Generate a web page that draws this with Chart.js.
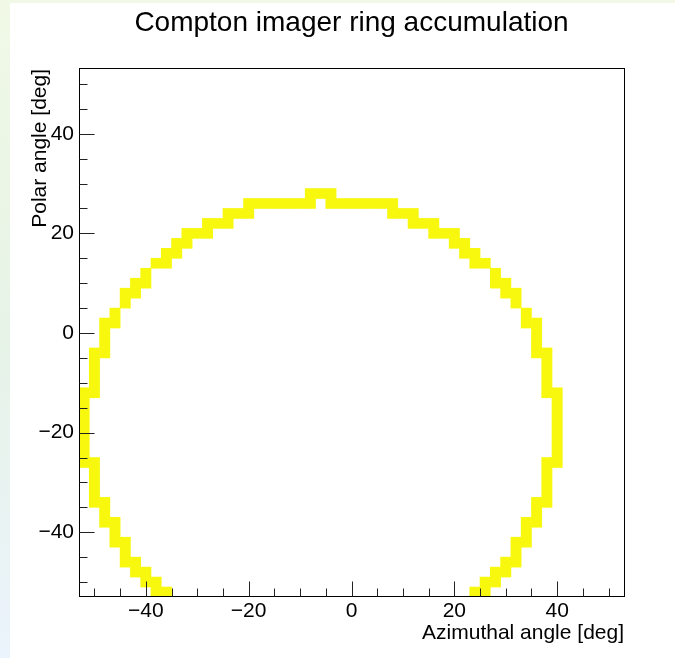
<!DOCTYPE html>
<html>
<head>
<meta charset="utf-8">
<title>Compton imager ring accumulation</title>
<script src="https://cdn.jsdelivr.net/npm/chart.js@4.4.1/dist/chart.umd.min.js"></script>
<style>
  html, body { margin: 0; padding: 0; }
  body {
    width: 675px; height: 658px; overflow: hidden;
    background: linear-gradient(to bottom, #f1f9e6 0%, #e6f3e6 50%, #ebf3fc 100%);
  }
  #chart { position: absolute; left: 0; top: 0; }
</style>
</head>
<body>
<canvas id="chart" width="675" height="658"></canvas>
<script>
// histogram binning (deg)
const BIN = 2;
const X_MIN = -53, X_MAX = 53;
const Y_MIN = -53, Y_MAX = 53;

// filled cells, one entry per vertical run: column centre, lowest / highest bin centre
const runX  = [-52, -50, -50, -48, -48, -46, -46, -44, -44, -42, -42, -40, -40, -38, -38, -36, -36,
               -34, -32, -30, -28, -26, -24, -22, -20, -18, -16, -14, -12, -10, -8, -6, -4,
               -2, 0, 2, 4, 6, 8, 10, 12, 14, 16, 18, 20, 22, 24, 24, 26, 26, 28, 28,
               30, 30, 32, 32, 34, 34, 36, 36, 38, 38, 40];
const runLo = [-26, -12, -34, -4, -38, 2, -42, 6, -46, 8, -48, 10, -50, 14, -52, 14, -52,
               16, 18, 20, 20, 22, 22, 24, 24, 26, 26, 26, 26, 26, 26, 28, 26,
               26, 26, 26, 26, 26, 24, 24, 22, 22, 20, 20, 18, 16, 14, -52, 14, -52, 10, -50,
               8, -48, 6, -46, 2, -42, -4, -38, -12, -34, -26];
const runHi = [-12, -4, -26, 2, -34, 4, -38, 8, -42, 10, -46, 12, -48, 14, -50, 16, -52,
               18, 20, 20, 22, 22, 24, 24, 26, 26, 26, 26, 26, 26, 28, 28, 28,
               26, 26, 26, 26, 26, 26, 24, 24, 22, 22, 20, 20, 18, 16, -52, 14, -50, 12, -48,
               10, -46, 8, -42, 4, -38, 2, -34, -4, -26, -12];

const xTickLabels = [-40, -20, 0, 20, 40];
const yTickLabels = [-40, -20, 0, 20, 40];
const MINOR_STEP = 5;

const FONT = "'Liberation Sans', Arial, Helvetica, sans-serif";

const cells = runX.map((x, i) => ({ x: x, y: [runLo[i] - BIN / 2, runHi[i] + BIN / 2] }));

const fmt = v => (v < 0 ? '\u2212' + Math.abs(v) : String(v));

// white pad, frame and inward ROOT-style ticks
const padAndFrame = {
  id: 'padAndFrame',
  beforeDraw(chart) {
    const ctx = chart.ctx;
    ctx.save();
    ctx.fillStyle = '#ffffff';
    ctx.fillRect(10, 3, chart.width - 10, chart.height - 3);
    ctx.restore();
  },
  afterDatasetsDraw(chart) {
    const { ctx, chartArea: a, scales: { x, y } } = chart;
    ctx.save();
    ctx.strokeStyle = '#000';
    ctx.lineWidth = 1;
    ctx.strokeRect(a.left + 0.5, a.top - 0.5, a.right - a.left, a.bottom - a.top);

    ctx.strokeStyle = '#222';
    ctx.beginPath();
    for (let v = -50; v <= 50; v += MINOR_STEP) {
      const len = v % 20 === 0 ? 15 : 8;
      const px = Math.round(x.getPixelForValue(v)) + 0.5;
      ctx.moveTo(px, a.bottom - 0.5);
      ctx.lineTo(px, a.bottom - 0.5 - len);
      const py = Math.round(y.getPixelForValue(v)) + 0.5;
      ctx.moveTo(a.left + 0.5, py);
      ctx.lineTo(a.left + 0.5 + len, py);
    }
    ctx.stroke();
    ctx.restore();
  }
};

new Chart(document.getElementById('chart'), {
  type: 'bar',
  data: {
    datasets: [{
      data: cells,
      backgroundColor: '#f8f80f',
      borderWidth: 0,
      categoryPercentage: 1,
      barPercentage: 1,
      grouped: false
    }]
  },
  options: {
    responsive: false,
    animation: false,
    events: [],
    layout: { padding: { left: 0, right: 51, top: 0, bottom: 0 } },
    scales: {
      x: {
        type: 'linear',
        min: X_MIN,
        max: X_MAX,
        offset: false,
        grid: { display: false, drawTicks: false },
        border: { display: false },
        afterBuildTicks: s => { s.ticks = xTickLabels.map(v => ({ value: v })); },
        afterFit: s => { s.height = 61; },
        ticks: {
          autoSkip: false, maxRotation: 0, padding: 2,
          color: '#000',
          font: { family: FONT, size: 21 },
          callback: v => fmt(v)
        },
        title: {
          display: true,
          text: 'Azimuthal angle [deg]',
          align: 'end',
          color: '#000',
          font: { family: FONT, size: 21 },
          padding: { top: 0, bottom: 12 }
        }
      },
      y: {
        type: 'linear',
        min: Y_MIN,
        max: Y_MAX,
        grid: { display: false, drawTicks: false },
        border: { display: false },
        afterBuildTicks: s => { s.ticks = yTickLabels.map(v => ({ value: v })); },
        afterFit: s => { s.width = 79; },
        ticks: {
          autoSkip: false, padding: 5,
          color: '#000',
          font: { family: FONT, size: 21 },
          callback: v => fmt(v)
        },
        title: {
          display: true,
          text: 'Polar angle [deg]',
          align: 'end',
          color: '#000',
          font: { family: FONT, size: 21 },
          padding: { top: 28, bottom: 0 }
        }
      }
    },
    plugins: {
      legend: { display: false },
      tooltip: { enabled: false },
      title: {
        display: true,
        fullSize: false,
        text: 'Compton imager ring accumulation',
        color: '#000',
        font: { family: FONT, size: 28, weight: 'normal' },
        padding: { top: 6, bottom: 29.4 }
      }
    }
  },
  plugins: [padAndFrame]
});
</script>
</body>
</html>
